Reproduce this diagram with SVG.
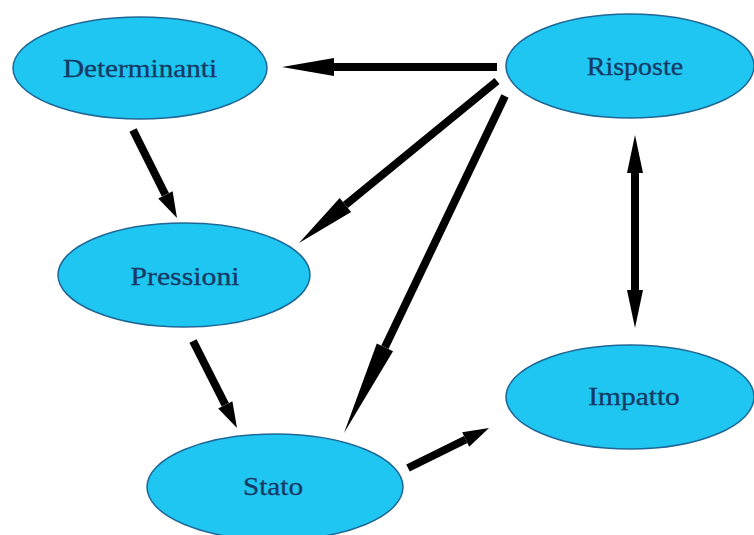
<svg xmlns="http://www.w3.org/2000/svg" width="754" height="535" viewBox="0 0 754 535">
<style>
.node ellipse{fill:#1ec6f1;stroke:#1f6796;stroke-width:1.5}
.node text{font-family:"Liberation Serif","Times New Roman",serif;font-size:25px;fill:#163a66;stroke:#163a66;stroke-width:0.3;text-anchor:middle}
.conn line{stroke:#000;stroke-width:8;stroke-linecap:butt}
.conn polygon{fill:#000}
</style>
<rect width="754" height="535" fill="#fff"/>
<g id="determinanti" class="node"><ellipse cx="140" cy="68" rx="127" ry="51"/><text transform="translate(140,77) scale(1.17,1)">Determinanti</text></g>
<g id="risposte" class="node"><ellipse cx="630" cy="66" rx="124" ry="52"/><text transform="translate(635,75) scale(1.12,1)">Risposte</text></g>
<g id="pressioni" class="node"><ellipse cx="184" cy="275" rx="126" ry="52"/><text transform="translate(185,285) scale(1.19,1)">Pressioni</text></g>
<g id="stato" class="node"><ellipse cx="275" cy="487" rx="128" ry="53"/><text transform="translate(273,495) scale(1.17,1)">Stato</text></g>
<g id="impatto" class="node"><ellipse cx="630" cy="397" rx="124" ry="52"/><text transform="translate(634,405) scale(1.18,1)">Impatto</text></g>
<g id="connectors" class="conn">
<line x1="497" y1="67" x2="334" y2="67"/><polygon points="334,58 282,67 334,76"/>
<line x1="497" y1="81" x2="345.4" y2="205"/><polygon points="351.1,212 299,243 339.7,198"/>
<line x1="505" y1="96" x2="384.9" y2="347.3"/><polygon points="393,351.2 344,433 376.8,343.4"/>
<line x1="133" y1="130" x2="165.4" y2="194.8"/><polygon points="172.6,191.2 177,218 158.2,198.4"/>
<line x1="193" y1="341" x2="225.3" y2="404.8"/><polygon points="232.4,401.2 237,428 218.2,408.4"/>
<line x1="408" y1="468" x2="465.7" y2="439.5"/><polygon points="469.2,446.7 489,428 462.2,432.3"/>
<line x1="635" y1="172" x2="635" y2="291"/><polygon points="627,173 635,135 643,173"/><polygon points="627,290 635,328 643,290"/>
</g>
</svg>
